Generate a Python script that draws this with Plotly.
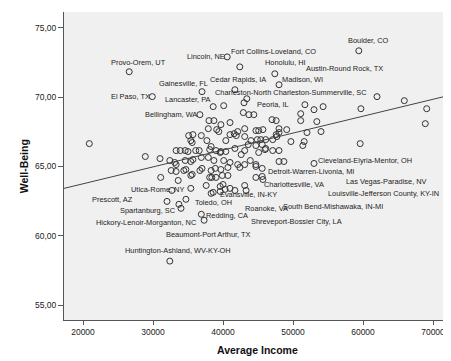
import plotly.graph_objects as go

# Metro areas: average income vs well-being
income = [
    59400, 40600, 26600, 42400, 47400, 48000, 37000, 41700, 29900, 43400,
    43000, 38600, 40100, 36700, 51700, 53000, 54300, 62000, 65900, 69100,
    59700, 68900, 59600, 20900, 28900, 31000, 32400, 42900, 43700, 44400,
    51100, 51100, 53400, 47000, 47600, 43100, 44700, 45100, 45700, 48000,
    49100, 52000, 54000, 43100, 44000, 44900, 45400, 46100, 47100, 47600,
    48000, 47700, 43600, 44700, 45600, 46100, 49700, 51600, 51400, 45100,
    46000, 47100, 48000, 43900, 44700, 44700, 45600, 48000, 48700, 53000,
    44700, 45600, 45700, 43100, 38700, 39700, 41000, 38000, 37900, 39100,
    39400, 36900, 35400, 35600, 37700, 40400, 41000, 41600, 41900, 42100,
    33300, 33900, 34600, 35000, 36100, 36600, 38100, 38300, 39000, 39600,
    39700, 40400, 41700, 43100, 42600, 32400, 33100, 33300, 34600, 35400,
    35700, 36900, 37900, 38700, 40100, 41000, 42100, 42400, 43100, 32600,
    33300, 34400, 34700, 36700, 37000, 38300, 38900, 39700, 40700, 35400,
    35600, 33600, 38100, 38400, 39000, 39900, 40700, 37600, 40000, 41000,
    35400, 31100, 35100, 35700, 32700, 32000, 33700, 34700, 34000, 36900,
    37300, 38300, 38600, 39600, 40300, 39600, 41700, 43300,
]
wellbeing = [
    73.35, 72.91, 71.84, 72.19, 71.69, 70.90, 70.40, 70.54, 70.04, 69.89,
    69.60, 69.32, 69.39, 68.74, 69.46, 69.10, 69.32, 70.04, 69.75, 69.17,
    69.17, 68.09, 66.65, 66.65, 65.72, 65.57, 58.17, 68.89, 68.74, 68.74,
    68.81, 68.31, 68.24, 68.38, 68.31, 67.73, 67.59, 67.59, 67.66, 67.73,
    67.66, 67.45, 67.52, 67.16, 66.87, 66.94, 66.94, 66.94, 66.94, 67.30,
    67.45, 67.16, 66.58, 66.51, 66.58, 66.30, 66.80, 66.80, 66.51, 66.01,
    66.22, 66.15, 66.15, 65.43, 65.14, 65.00, 64.86, 65.36, 65.36, 65.22,
    64.21, 64.28, 64.06, 63.63, 68.31, 68.02, 68.17, 68.31, 67.73, 67.66,
    67.52, 67.23, 66.87, 66.73, 66.87, 66.87, 67.30, 67.37, 67.23, 67.52,
    66.15, 66.15, 66.15, 66.08, 66.15, 66.15, 66.22, 66.44, 66.15, 66.01,
    66.08, 66.08, 66.30, 66.15, 65.86, 65.43, 65.29, 65.14, 65.43, 65.36,
    65.50, 65.65, 65.65, 65.43, 65.43, 65.29, 65.14, 64.93, 65.14, 64.71,
    64.64, 64.71, 64.78, 64.71, 64.86, 64.71, 64.86, 64.78, 64.93, 64.35,
    64.43, 63.99, 64.21, 64.21, 64.21, 64.35, 64.35, 63.63, 63.70, 63.42,
    63.42, 64.21, 67.23, 67.30, 63.27, 62.48, 62.27, 62.63, 61.98, 61.55,
    61.12, 63.06, 63.13, 63.20, 63.35, 63.56, 63.27, 63.27,
]

# Linear fit line (as drawn in the reference)
fit_intercept = 61.31
fit_slope = 0.000122
x_range = [17286, 73000]
y_range = [53.92, 76.15]

# Point labels and where their text sits
label_text = [
    "Provo-Orem, UT", "Lincoln, NE", "Fort Collins-Loveland, CO", "Gainesville, FL",
    "Cedar Rapids, IA", "Charleston-North Charleston-Summerville, SC", "El Paso, TX",
    "Lancaster, PA", "Bellingham, WA", "McAllen-Edinburg-Mission, TX", "Boulder, CO",
    "Honolulu, HI", "Austin-Round Rock, TX", "Madison, WI", "Peoria, IL",
    "Cleveland-Elyria-Mentor, OH", "Detroit-Warren-Livonia, MI", "Charlottesville, VA",
    "Las Vegas-Paradise, NV", "Evansville, IN-KY", "Louisville-Jefferson County, KY-IN",
    "Roanoke, VA", "South Bend-Mishawaka, IN-MI", "Shreveport-Bossier City, LA",
    "Redding, CA", "Beaumont-Port Arthur, TX", "Huntington-Ashland, WV-KY-OH",
    "Utica-Rome, NY", "Prescott, AZ", "Spartanburg, SC", "Hickory-Lenoir-Morganton, NC",
    "Toledo, OH",
]
label_x = [
    23857, 34714, 41000, 30715, 38000, 38714, 23857, 31572, 28715, 17143, 57714,
    45857, 51714, 48286, 44714, 53429, 46286, 45714, 57429, 39429, 54857, 43000,
    48430, 43857, 37429, 31714, 25857, 26714, 21143, 25143, 21714, 35857,
]
label_y = [
    72.48, 72.91, 73.27, 70.97, 71.26, 70.32, 70.04, 69.82, 68.74, 67.30, 74.07,
    72.48, 72.05, 71.26, 69.46, 65.43, 64.64, 63.70, 63.92, 62.99, 63.06, 61.98,
    62.12, 61.04, 61.47, 60.11, 58.96, 63.35, 62.63, 61.83, 60.97, 62.41,
]

x_ticks = [20000, 30000, 40000, 50000, 60000, 70000]
y_ticks = [55, 60, 65, 70, 75]
y_ticktext = ["55,00", "60,00", "65,00", "70,00", "75,00"]

FONT = "Liberation Sans, Arial, sans-serif"

fig = go.Figure()
fig.add_trace(go.Scatter(
    x=income, y=wellbeing, mode="markers",
    marker=dict(symbol="circle-open", size=6, color="#333333", line=dict(width=1)),
    showlegend=False, hoverinfo="x+y",
))
fig.add_trace(go.Scatter(
    x=x_range, y=[fit_intercept + fit_slope * v for v in x_range],
    mode="lines", line=dict(color="#444444", width=1), showlegend=False,
    hoverinfo="skip",
))

annotations = []
for t, lx, ly in zip(label_text, label_x, label_y):
    annotations.append(dict(
        x=lx, y=ly, xref="x", yref="y", text=t, showarrow=False,
        xanchor="left", yanchor="middle", borderpad=0,
        font=dict(family=FONT, size=7.4, color="#222222"),
    ))
annotations.append(dict(
    x=0.495, y=-0.097, xref="paper", yref="paper", text="<b>Average Income</b>",
    showarrow=False, xanchor="center", yanchor="middle",
    font=dict(family=FONT, size=10.5, color="#111111"),
))
annotations.append(dict(
    x=-0.102, y=0.5, xref="paper", yref="paper", text="<b>Well-Being</b>",
    showarrow=False, xanchor="center", yanchor="middle", textangle=-90,
    font=dict(family=FONT, size=10.5, color="#111111"),
))

fig.update_layout(
    width=451, height=361,
    margin=dict(l=56, r=5, t=4, b=49),
    paper_bgcolor="white", plot_bgcolor="#f0f0f0",
    font=dict(family=FONT, size=8.5, color="#222222"),
    annotations=annotations,
    xaxis=dict(
        range=x_range, tickvals=x_ticks, ticktext=[str(v) for v in x_ticks],
        showgrid=False, zeroline=False, showline=True, linecolor="#555555",
        linewidth=1, ticks="outside", ticklen=4, tickcolor="#555555",
        tickfont=dict(size=8.5),
    ),
    yaxis=dict(
        range=y_range, tickvals=y_ticks, ticktext=y_ticktext,
        showgrid=False, zeroline=False, showline=True, linecolor="#555555",
        linewidth=1, ticks="outside", ticklen=5, tickcolor="#555555",
        tickfont=dict(size=8.5),
    ),
)

fig.write_html("out.html")
